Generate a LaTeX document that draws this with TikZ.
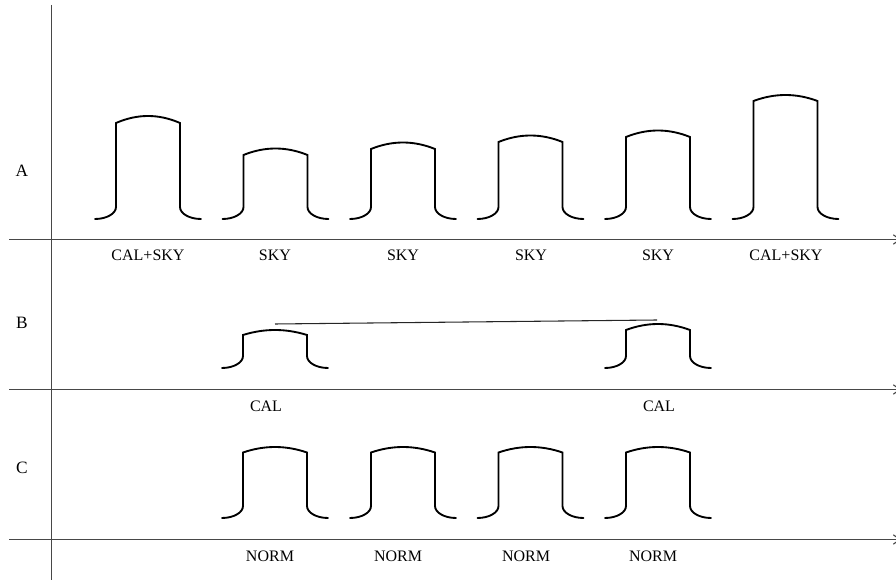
\documentclass[tikz,border=0pt]{standalone}
\usepackage{fontspec}
\setmainfont{Liberation Serif}
\usetikzlibrary{arrows.meta}
% pulse: center x, foot y, corner y, peak y
\newcommand\drawpulse[4]{%
  \draw[pulseline] ({#1-53},#2) .. controls ({#1-41.4},#2) and ({#1-32},{#2-5.4}) .. ({#1-32},{#2-12})
    -- ({#1-32},#3) .. controls ({#1-10.67},{(4*#4-#3)/3}) and ({#1+10.67},{(4*#4-#3)/3}) .. ({#1+32},#3)
    -- ({#1+32},{#2-12}) .. controls ({#1+32},{#2-5.4}) and ({#1+41.4},#2) .. ({#1+53},#2);}
\begin{document}
\begin{tikzpicture}[x=0.75pt,y=-0.75pt,
  pulseline/.style={line width=1.4pt,black,line cap=round},
  axisline/.style={line width=0.85pt,black!72},
  axisarrow/.style={axisline,-{Straight Barb[length=5pt,width=7pt]}},
  lbl/.style={font=\fontsize{12}{14}\selectfont,inner sep=0pt,anchor=center},
  rowlbl/.style={font=\fontsize{13}{15}\selectfont,inner sep=0pt,anchor=center}]
\useasboundingbox (0,0) rectangle (896,580);
% axes
\coordinate (vtop) at (51.5,5);
\coordinate (vbot) at (51.5,582);
\draw[axisline] (vtop) -- (vbot);
\coordinate (h1s) at (9,239.5); \coordinate (h1e) at (901,239.5);
\coordinate (h2s) at (9,389.5); \coordinate (h2e) at (901,389.5);
\coordinate (h3s) at (9,539.5); \coordinate (h3e) at (901,539.5);
\draw[axisarrow] (h1s) -- (h1e);
\draw[axisarrow] (h2s) -- (h2e);
\draw[axisarrow] (h3s) -- (h3e);
% row labels
\node[rowlbl] (rA) at (22,171) {A};
\node[rowlbl] (rB) at (22,323) {B};
\node[rowlbl] (rC) at (22,468) {C};
% row A pulses
\drawpulse{148}{219}{123}{116}
\drawpulse{275.5}{219}{155}{148.5}
\drawpulse{403}{219}{149}{142.5}
\drawpulse{530.5}{219}{142}{135.5}
\drawpulse{658}{219}{137}{130.5}
\drawpulse{785.5}{219}{101}{95}
\node[lbl] (a1) at (148,255) {CAL+SKY};
\node[lbl] (a2) at (275,255) {SKY};
\node[lbl] (a3) at (403,255) {SKY};
\node[lbl] (a4) at (531,255) {SKY};
\node[lbl] (a5) at (658,255) {SKY};
\node[lbl] (a6) at (786,255) {CAL+SKY};
% row B
\drawpulse{275}{368}{335}{330}
\drawpulse{658}{368}{330}{324}
\coordinate (bl) at (275,324);
\coordinate (br) at (657,320);
\draw[line width=0.8pt,black!85] (bl) -- (br);
\node[lbl] (b1) at (266,406) {CAL};
\node[lbl] (b2) at (659,406) {CAL};
% row C
\drawpulse{275}{518}{452.5}{447}
\drawpulse{403}{518}{452.5}{447}
\drawpulse{530.5}{518}{452.5}{447}
\drawpulse{658}{518}{452.5}{447}
\node[lbl] (c1) at (270,556) {NORM};
\node[lbl] (c2) at (398,556) {NORM};
\node[lbl] (c3) at (526,556) {NORM};
\node[lbl] (c4) at (653,556) {NORM};
\end{tikzpicture}
\end{document}
